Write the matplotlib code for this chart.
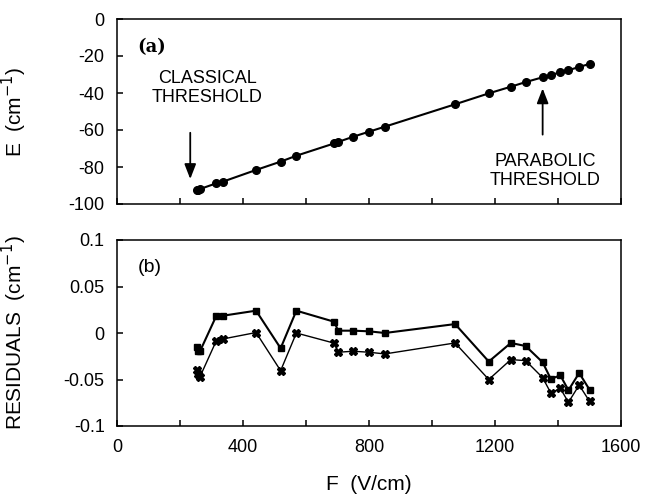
import numpy as np
from matplotlib import pyplot as plt

plt.rcParams['font.family'] = ['Liberation Sans', 'DejaVu Sans']
plt.rcParams['axes.unicode_minus'] = False

# field values (V/cm) shared by both panels
F = [252, 257, 263, 315, 336, 441, 519, 569, 690, 701, 750, 800, 850,
     1073, 1180, 1250, 1297, 1351, 1377, 1407, 1433, 1467, 1500]
E = [-92.6, -92.3, -91.9, -88.8, -87.9, -81.6, -77.1, -73.9, -67.2, -66.5,
     -63.6, -60.9, -58.2, -46.1, -40.2, -36.6, -34.1, -31.5, -30.3, -28.8,
     -27.7, -25.9, -24.3]
res_sq = [-0.0154, -0.019, -0.0196, 0.0186, 0.0186, 0.024, -0.0164, 0.024,
          0.012, 0.0025, 0.0025, 0.0018, 0.0, 0.0096, -0.0307, -0.0107,
          -0.0140, -0.0315, -0.0495, -0.0455, -0.0615, -0.043, -0.061]
res_x = [-0.040, -0.044, -0.047, -0.0082, -0.0064, 0.0005, -0.0405, 0.0,
         -0.011, -0.0207, -0.0196, -0.0207, -0.0225, -0.0107, -0.050, -0.0286,
         -0.0297, -0.048, -0.0645, -0.0595, -0.0745, -0.056, -0.0735]

e_ticks = [0, -20, -40, -60, -80, -100]
r_ticks = [0.1, 0.05, 0, -0.05, -0.1]
r_labels = ['0.1', '0.05', '0', '-0.05', '-0.1']
f_ticks = [0, 400, 800, 1200, 1600]

fig = plt.figure(figsize=(6.51, 5.0), dpi=100)
ax1 = fig.add_axes([0.180, 0.592, 0.774, 0.370])
ax2 = fig.add_axes([0.180, 0.148, 0.774, 0.372])

for ax in (ax1, ax2):
    for s in ax.spines.values():
        s.set_linewidth(1.1)
    ax.set_xlim(0, 1600)
    ax.set_xticks(np.arange(0, 1601, 200), minor=True)
    ax.tick_params(which='both', direction='in', length=4, width=1.1,
                   top=False, right=False, labelsize=13, pad=9)

# panel (a)
ax1.plot(F, E, color='black', lw=1.5, marker='o', ms=5.5)
ax1.set_ylim(-100, 0)
ax1.set_yticks(e_ticks)
ax1.set_xticks(f_ticks)
ax1.set_xticklabels([])
ax1.set_ylabel('E  (cm$^{-1}$)', fontsize=15)
ax1.yaxis.set_label_coords(-0.175, 0.5)
ax1.text(0.04, 0.85, '(a)', transform=ax1.transAxes, fontsize=13,
         fontweight='bold', family='DejaVu Serif', va='center')

ax1.text(287, -37.5, 'CLASSICAL\nTHRESHOLD', ha='center', va='center',
         fontsize=13, linespacing=1.15)
ax1.annotate('', xy=(232, -88), xytext=(232, -60),
             arrowprops=dict(arrowstyle='-|>,head_width=0.35,head_length=0.9',
                             color='black', lw=1.3))
ax1.text(1360, -82, 'PARABOLIC\nTHRESHOLD', ha='center', va='center',
         fontsize=13, linespacing=1.15)
ax1.annotate('', xy=(1351, -36), xytext=(1351, -64),
             arrowprops=dict(arrowstyle='-|>,head_width=0.35,head_length=0.9',
                             color='black', lw=1.3))

# panel (b)
ax2.plot(F, res_sq, color='black', lw=1.5, marker='s', ms=5)
ax2.plot(F, res_x, color='black', lw=1.0, marker='X', ms=5.5)
ax2.set_ylim(-0.1, 0.1)
ax2.set_yticks(r_ticks)
ax2.set_yticklabels(r_labels)
ax2.set_xticks(f_ticks)
ax2.set_xticklabels([str(v) for v in f_ticks])
ax2.set_ylabel('RESIDUALS  (cm$^{-1}$)', fontsize=15)
ax2.yaxis.set_label_coords(-0.175, 0.5)
ax2.set_xlabel('F  (V/cm)', fontsize=15, labelpad=14)
ax2.text(0.04, 0.85, '(b)', transform=ax2.transAxes, fontsize=14,
         va='center')

plt.savefig('out.png', dpi=100)
